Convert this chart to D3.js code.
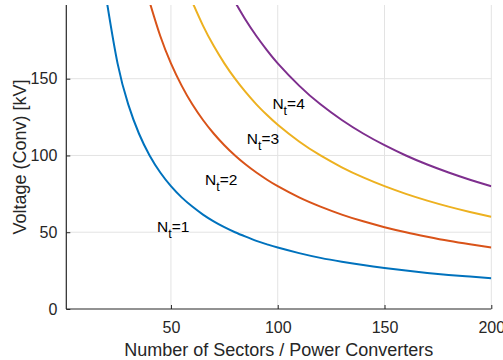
<!DOCTYPE html>
<html>
<head>
<meta charset="utf-8">
<script src="https://cdn.jsdelivr.net/npm/d3@7"></script>
<style>
  body { margin: 0; background: #fff; }
  svg { display: block; font-family: "Liberation Sans", Arial, sans-serif; }
</style>
</head>
<body>
<div id="chart"></div>
<script>
// sectors
const sectors = [20, 25, 30, 35, 40, 45, 50, 55, 60, 65, 70, 75, 80, 85, 90, 95, 100,
    110, 120, 130, 140, 150, 160, 170, 180, 190, 200];

// voltage per curve (kV), null where the curve is above the plot
const voltNt1 = [200, 160, 133.3, 114.3, 100, 88.9, 80, 72.7, 66.7, 61.5, 57.1, 53.3, 50, 47.1, 44.4, 42.1, 40,
    36.4, 33.3, 30.8, 28.6, 26.7, 25, 23.5, 22.2, 21.1, 20];
const voltNt2 = [null, null, null, null, 200, 177.8, 160, 145.5, 133.3, 123.1, 114.3, 106.7, 100, 94.1, 88.9, 84.2, 80,
    72.7, 66.7, 61.5, 57.1, 53.3, 50, 47.1, 44.4, 42.1, 40];
const voltNt3 = [null, null, null, null, null, null, null, null, 200, 184.6, 171.4, 160, 150, 141.2, 133.3, 126.3, 120,
    109.1, 100, 92.3, 85.7, 80, 75, 70.6, 66.7, 63.2, 60];
const voltNt4 = [null, null, null, null, null, null, null, null, null, null, null, null, 200, 188.2, 177.8, 168.4, 160,
    145.5, 133.3, 123.1, 114.3, 106.7, 100, 94.1, 88.9, 84.2, 80];

const seriesNames = ["1", "2", "3", "4"];
const colors = ["#0072BD", "#D95319", "#EDB120", "#7E2F8E"];

// label anchor points [sectors, kV]
const labelPos = [[43.5, 50], [66, 81], [85.5, 107.5], [97.5, 130]];

const xTicks = [50, 100, 150, 200];
const yTicks = [0, 50, 100, 150];

const width = 503, height = 360;
const margin = {top: 5, right: 11.7, bottom: 51, left: 66.3};
const axisColor = "#262626";

const svg = d3.select("#chart").append("svg")
    .attr("width", width)
    .attr("height", height);

const x = d3.scaleLinear()
    .domain([1, 200])
    .range([margin.left, width - margin.right]);

const y = d3.scaleLinear()
    .domain([0, 198])
    .range([height - margin.bottom, margin.top]);

// clip to plot box
svg.append("defs").append("clipPath")
    .attr("id", "plotClip")
  .append("rect")
    .attr("x", margin.left)
    .attr("y", margin.top)
    .attr("width", x(200) - margin.left)
    .attr("height", y(0) - margin.top);

// grid
const grid = svg.append("g").attr("class", "grid");
grid.selectAll(".gx")
    .data(xTicks)
    .enter().append("line")
    .attr("x1", d => x(d)).attr("x2", d => x(d))
    .attr("y1", y(0)).attr("y2", margin.top)
    .attr("stroke", "#e3e3e3")
    .attr("stroke-width", 1);
grid.selectAll(".gy")
    .data(yTicks.filter(d => d > 0))
    .enter().append("line")
    .attr("x1", margin.left).attr("x2", x(200))
    .attr("y1", d => y(d)).attr("y2", d => y(d))
    .attr("stroke", "#e3e3e3")
    .attr("stroke-width", 1);

// curves
const allSeries = [voltNt1, voltNt2, voltNt3, voltNt4];
const line = d3.line()
    .defined(d => d[1] != null)
    .x(d => x(d[0]))
    .y(d => y(d[1]))
    .curve(d3.curveNatural);

svg.append("g")
    .attr("clip-path", "url(#plotClip)")
  .selectAll("path")
    .data(allSeries)
    .enter().append("path")
    .attr("d", s => line(sectors.map((n, i) => [n, s[i]])))
    .attr("fill", "none")
    .attr("stroke", (s, i) => colors[i])
    .attr("stroke-width", 2);

// axes
const xAxis = d3.axisBottom(x)
    .tickValues(xTicks)
    .tickSizeInner(-4)
    .tickSizeOuter(0)
    .tickPadding(13);

const yAxis = d3.axisLeft(y)
    .tickValues(yTicks)
    .tickSizeInner(-4)
    .tickSizeOuter(0)
    .tickPadding(9);

const gx = svg.append("g")
    .attr("transform", `translate(0, ${y(0)})`)
    .call(xAxis);

const gy = svg.append("g")
    .attr("transform", `translate(${margin.left}, 0)`)
    .call(yAxis);

[gx, gy].forEach(g => {
    g.select(".domain").attr("stroke", axisColor).attr("stroke-width", 1.2);
    g.selectAll(".tick line").attr("stroke", axisColor);
    g.selectAll(".tick text")
        .attr("fill", axisColor)
        .style("font-size", "16px")
        .style("font-family", "'Liberation Sans', Arial, sans-serif");
});

// domain line goes right up to y=0 at the corner
gy.select(".domain").attr("d", `M0,${margin.top}V${y(0)}`);
gx.select(".domain").attr("d", `M${margin.left},0H${x(200)}`);

// axis labels
svg.append("text")
    .attr("x", (margin.left + x(200)) / 2)
    .attr("y", 356)
    .attr("text-anchor", "middle")
    .attr("fill", axisColor)
    .style("font-size", "18px")
    .text("Number of Sectors / Power Converters");

svg.append("text")
    .attr("transform", `translate(26, ${(y(0) + margin.top) / 2}) rotate(-90)`)
    .attr("text-anchor", "middle")
    .attr("fill", axisColor)
    .style("font-size", "18px")
    .text("Voltage (Conv) [kV]");

// N_t labels
const labels = svg.append("g").attr("class", "labels");
labelPos.forEach((p, i) => {
    const t = labels.append("text")
        .attr("x", x(p[0]))
        .attr("y", y(p[1]))
        .attr("fill", "#000")
        .style("font-size", "15.5px");
    t.append("tspan").text("N");
    t.append("tspan").attr("dy", 6).style("font-size", "12.5px").text("t");
    t.append("tspan").attr("dy", -6).text("=" + seriesNames[i]);
});
</script>
</body>
</html>
